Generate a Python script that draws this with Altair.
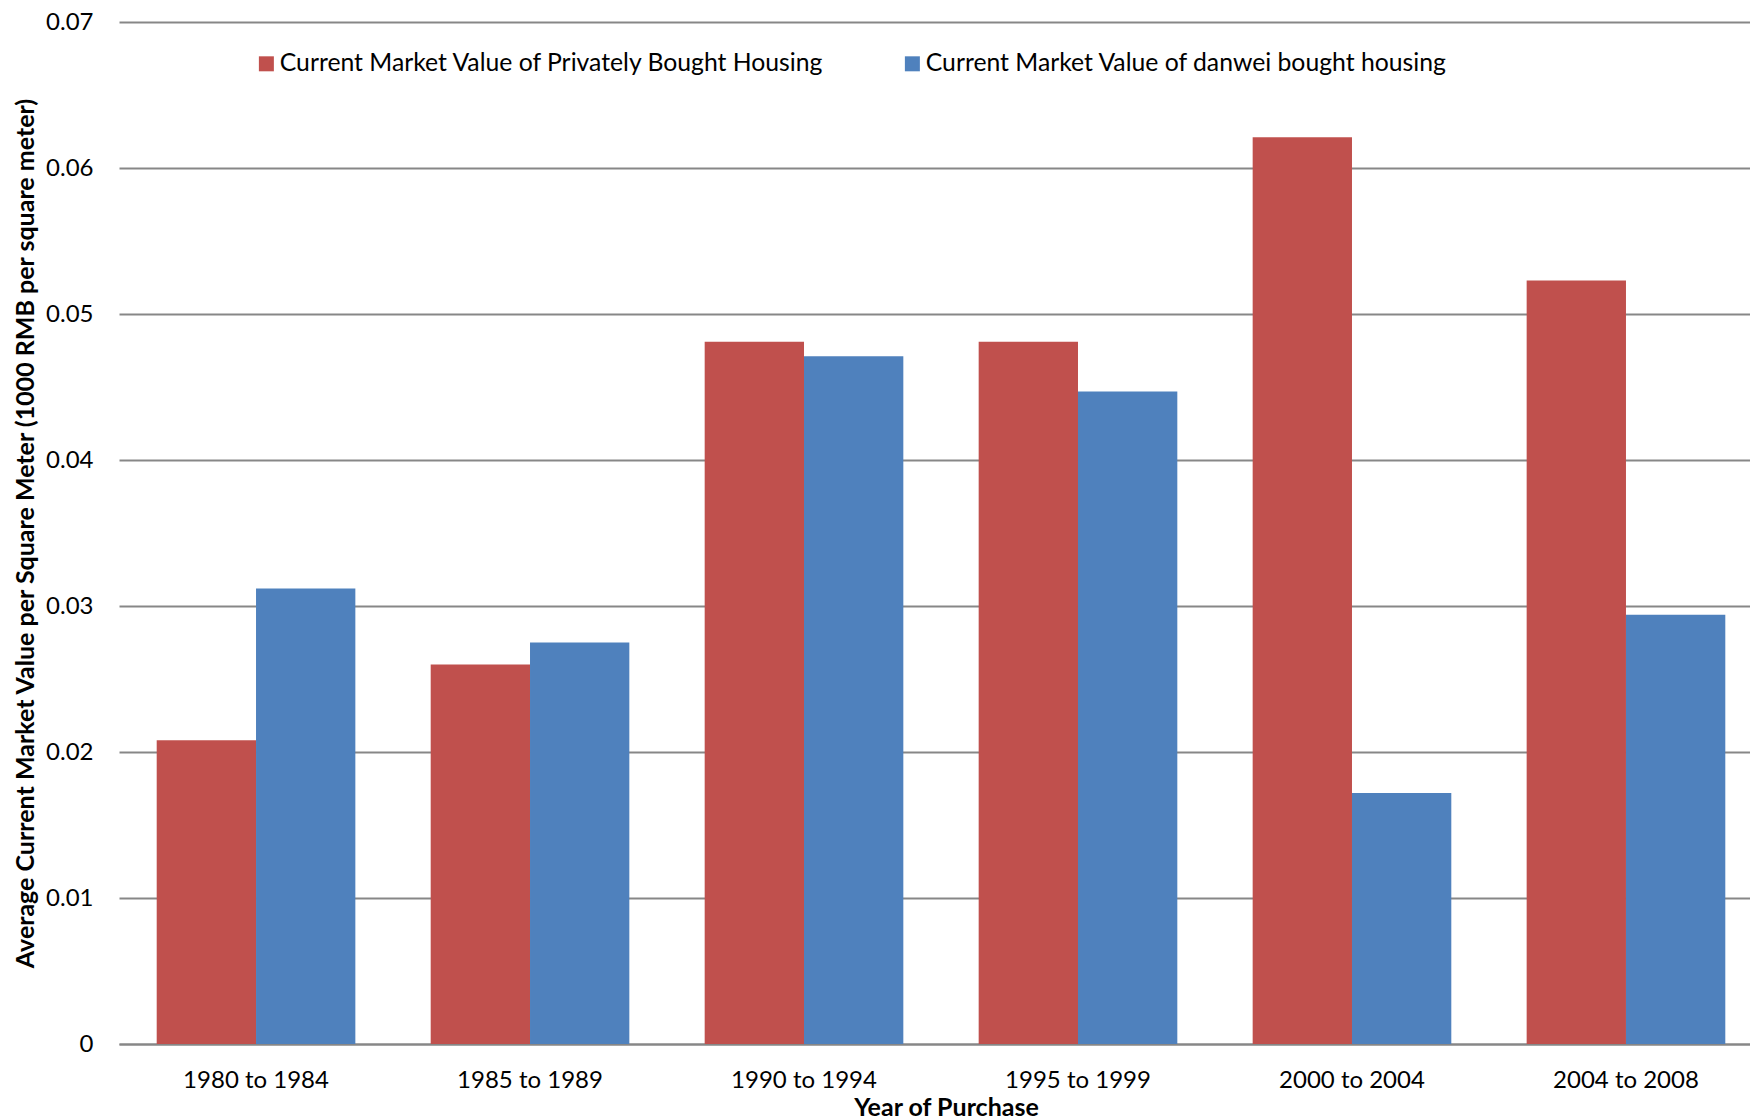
import altair as alt
import pandas as pd

# Purchase periods (x categories)
periods = [
    "1980 to 1984",
    "1985 to 1989",
    "1990 to 1994",
    "1995 to 1999",
    "2000 to 2004",
    "2004 to 2008",
]

# Average current market value per square metre (1000 RMB / m²)
private_values = [0.0208, 0.0260, 0.0481, 0.0481, 0.0621, 0.0523]
danwei_values = [0.0312, 0.0275, 0.0471, 0.0447, 0.0172, 0.0294]

series_names = [
    "Current Market Value of Privately Bought Housing",
    "Current Market Value of danwei bought housing",
]
series_colors = ["#C0504D", "#4F81BD"]

y_ticks = [0, 0.01, 0.02, 0.03, 0.04, 0.05, 0.06, 0.07]

rows = []
for period, priv, dan in zip(periods, private_values, danwei_values):
    rows.append({"period": period, "series": series_names[0], "value": priv})
    rows.append({"period": period, "series": series_names[1], "value": dan})
df = pd.DataFrame(rows)

FONT = "Lato"
GRID = "#878787"

chart = (
    alt.Chart(df)
    .mark_bar()
    .encode(
        x=alt.X(
            "period:N",
            sort=periods,
            # the category bands run slightly past the right edge of the plot
            scale=alt.Scale(range=[0, 1644], paddingInner=0.275, paddingOuter=0.1376),
            axis=alt.Axis(
                title="Year of Purchase",
                labelAngle=0,
                labelFont=FONT,
                labelFontSize=24,
                labelColor="black",
                labelPadding=24,
                ticks=False,
                domainColor=GRID,
                domainWidth=2,
                titleFont=FONT,
                titleFontSize=25,
                titleFontWeight="bold",
                titleColor="black",
                titleX=827,
                titleY=71,
                titleAlign="center",
                titleBaseline="alphabetic",
            ),
        ),
        xOffset=alt.XOffset("series:N", sort=series_names),
        y=alt.Y(
            "value:Q",
            scale=alt.Scale(domain=[0, 0.07], nice=False),
            axis=alt.Axis(
                title="Average Current Market Value per Square Meter (1000 RMB per square meter)",
                values=y_ticks,
                labelExpr="datum.value == 0 ? '0' : format(datum.value, '.2f')",
                labelFont=FONT,
                labelFontSize=24,
                labelColor="black",
                labelPadding=26,
                ticks=False,
                domain=False,
                grid=True,
                gridColor=GRID,
                gridWidth=1.8,
                titleFont=FONT,
                titleFontSize=25,
                titleFontWeight="bold",
                titleColor="black",
                titleAngle=270,
                titleX=-86,
                titleY=511,
                titleAlign="center",
                titleBaseline="alphabetic",
            ),
        ),
        color=alt.Color(
            "series:N",
            scale=alt.Scale(domain=series_names, range=series_colors),
            legend=alt.Legend(
                title=None,
                orient="none",
                legendX=135,
                legendY=29,
                direction="horizontal",
                symbolType="square",
                symbolSize=225,
                symbolStrokeWidth=0,
                symbolOpacity=1,
                labelFont=FONT,
                labelFontSize=24.75,
                labelColor="black",
                labelLimit=1000,
                labelOffset=1,
                columnPadding=75,
                padding=0,
            ),
        ),
    )
    .properties(
        width=1631,
        height=1022,
        padding={"left": 119, "top": 22, "right": 0, "bottom": 76},
        autosize="none",
        background="white",
    )
    .configure_view(stroke=None)
)

chart.save("out.html", embed_options={"renderer": "svg", "actions": False})
